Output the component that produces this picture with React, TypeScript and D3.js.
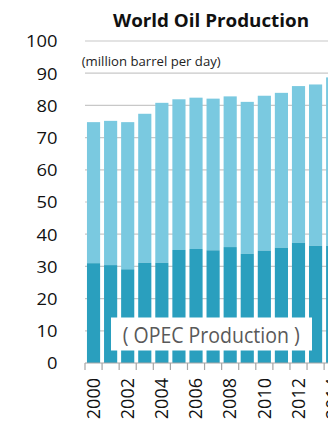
import React from "react";
import * as d3 from "d3";

// World oil production and the OPEC share, million barrels per day
const years = [2000, 2001, 2002, 2003, 2004, 2005, 2006, 2007, 2008, 2009, 2010, 2011, 2012, 2013, 2014];
const worldTotal = [74.8, 75.2, 74.8, 77.4, 80.8, 81.9, 82.4, 82.1, 82.8, 81.1, 83.0, 83.9, 86.0, 86.5, 88.7];
const opecOutput = [31.0, 30.4, 29.1, 31.1, 31.1, 35.1, 35.4, 35.0, 36.0, 33.9, 34.9, 35.8, 37.3, 36.4, 36.4];
const yTicks = [0, 10, 20, 30, 40, 50, 60, 70, 80, 90, 100];

const W = 328;
const H = 426;
const FONT = "'Open Sans', 'Noto Sans', sans-serif";
const LIGHT = "#7AC9E0";
const DARK = "#2A9FBE";

export default function App() {
  const left = 85;
  const step = 17.08;
  const x = d3
    .scaleBand<number>()
    .domain(years)
    .range([left, left + years.length * step])
    .paddingInner(0.23)
    .paddingOuter(0.115);
  const y = d3.scaleLinear().domain([0, 100]).range([363, 41]);

  const tickXs = years.map((_, i) => left + i * step).concat([left + years.length * step]);

  return (
    <svg
      width={W}
      height={H}
      style={{ position: "absolute", left: 0, top: 0, background: "#fff" }}
      fontFamily={FONT}
    >
      <rect x={0} y={0} width={W} height={H} fill="#fff" />

      {/* horizontal gridlines */}
      {yTicks.slice(1).map((t) => (
        <line key={t} x1={left} x2={W} y1={y(t)} y2={y(t)} stroke="#C8C8C8" strokeWidth={1.2} />
      ))}

      {/* stacked bars: OPEC at the bottom, rest of the world on top */}
      {years.map((yr, i) => (
        <g key={yr}>
          <rect
            x={x(yr)}
            width={x.bandwidth()}
            y={y(worldTotal[i])}
            height={y(opecOutput[i]) - y(worldTotal[i])}
            fill={LIGHT}
          />
          <rect
            x={x(yr)}
            width={x.bandwidth()}
            y={y(opecOutput[i])}
            height={y(0) - y(opecOutput[i])}
            fill={DARK}
          />
        </g>
      ))}

      {/* x axis line and ticks */}
      <line x1={left} x2={W} y1={y(0)} y2={y(0)} stroke="#A6A6A6" strokeWidth={1.2} />
      {tickXs.map((tx, i) => (
        <line key={i} x1={tx} x2={tx} y1={y(0)} y2={y(0) + 7} stroke="#A6A6A6" strokeWidth={1.2} />
      ))}

      {/* y tick labels */}
      {yTicks.map((t) => (
        <text
          key={t}
          transform={`translate(57.5,${y(t) + 6.3}) scale(1.08,1)`}
          textAnchor="end"
          fontSize={17}
          fill="#111"
        >
          {t}
        </text>
      ))}

      {/* x tick labels, every other year */}
      {years
        .filter((yr) => yr % 2 === 0)
        .map((yr) => (
          <text
            key={yr}
            transform={`translate(${(x(yr) as number) + x.bandwidth() / 2 + 6.3},378) rotate(-90)`}
            textAnchor="end"
            fontSize={18}
            fill="#111"
          >
            {yr}
          </text>
        ))}

      {/* title and unit */}
      <text x={211} y={26.7} textAnchor="middle" fontSize={18} fontWeight="bold" fill="#111" textLength={196} lengthAdjust="spacingAndGlyphs">
        World Oil Production
      </text>
      <text x={81.7} y={66} fontSize={12} fill="#222" textLength={139} lengthAdjust="spacingAndGlyphs">
        (million barrel per day)
      </text>

      {/* OPEC label box */}
      <rect x={111} y={317.5} width={201} height={33} fill="#fff" />
      <text x={122.7} y={342.7} fontSize={22.5} fill="#595959" textLength={177} lengthAdjust="spacingAndGlyphs">
        ( OPEC Production )
      </text>
    </svg>
  );
}
